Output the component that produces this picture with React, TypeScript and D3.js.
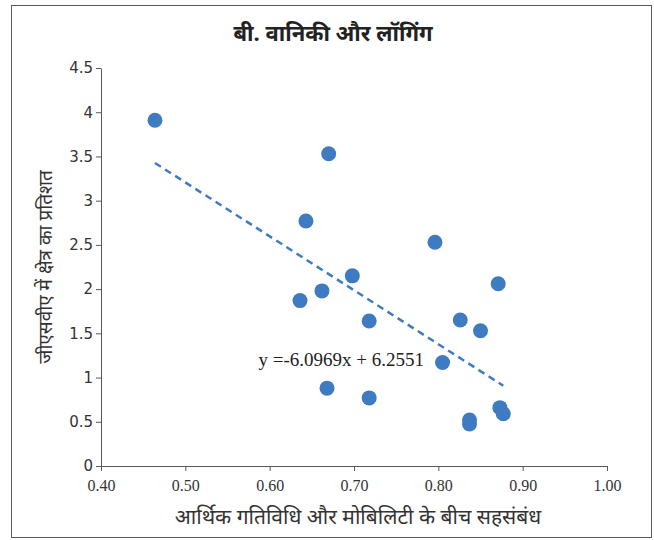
import { useRef, useEffect } from 'react';
import * as d3 from 'd3';

const corrX = [0.464, 0.670, 0.643, 0.796, 0.698, 0.871, 0.662, 0.636, 0.718, 0.826, 0.850, 0.805, 0.668, 0.718, 0.873, 0.877, 0.837, 0.837];
const gsvaY = [3.91, 3.53, 2.77, 2.53, 2.15, 2.06, 1.98, 1.87, 1.64, 1.65, 1.53, 1.17, 0.88, 0.77, 0.66, 0.59, 0.52, 0.475];
const xTicks = [0.4, 0.5, 0.6, 0.7, 0.8, 0.9, 1.0];
const yTicks = [0, 0.5, 1, 1.5, 2, 2.5, 3, 3.5, 4, 4.5];
const slope = -6.0969;
const intercept = 6.2551;

const W = 654, H = 540;
const margin = { top: 68, right: 47, bottom: 74, left: 101 };
const width = W - margin.left - margin.right;
const height = H - margin.top - margin.bottom;

const App = () => {
    const ref = useRef<SVGSVGElement>(null);

    useEffect(() => {
        if (!ref.current) return;
        const root = d3.select(ref.current);
        root.selectAll("*").remove();

        root.append("rect")
            .attr("x", 11.5).attr("y", 5.5)
            .attr("width", 640).attr("height", 532)
            .attr("fill", "white").attr("stroke", "#595959").attr("stroke-width", 1);

        root.append("text")
            .attr("x", 333).attr("y", 41)
            .attr("text-anchor", "middle")
            .style("font-family", "'Noto Sans', sans-serif")
            .style("font-weight", "bold")
            .style("font-size", "22px")
            .attr("fill", "#222")
            .text("बी. वानिकी और लॉगिंग");

        const svg = root.append("g").attr("transform", `translate(${margin.left},${margin.top})`);

        const x = d3.scaleLinear().domain([0.4, 1.0]).range([0, width]);
        const y = d3.scaleLinear().domain([0, 4.5]).range([height, 0]);

        const xAxis = svg.append("g")
            .attr("transform", `translate(0,${height})`)
            .call(d3.axisBottom(x).tickValues(xTicks).tickFormat(d3.format(".2f")).tickSize(5).tickSizeOuter(0).tickPadding(9));
        xAxis.selectAll("text")
            .style("font-family", "'Liberation Serif', serif")
            .style("font-size", "16px")
            .attr("fill", "#333");
        xAxis.selectAll("line, path").attr("stroke", "#595959");

        const yAxis = svg.append("g")
            .call(d3.axisLeft(y).tickValues(yTicks).tickFormat(d3.format("")).tickSize(5).tickSizeOuter(0).tickPadding(3));
        yAxis.selectAll("text")
            .style("font-family", "'DejaVu Sans', sans-serif")
            .style("font-size", "15px")
            .attr("fill", "#333");
        yAxis.selectAll("line, path").attr("stroke", "#595959");

        const x0 = d3.min(corrX) as number;
        const x1 = d3.max(corrX) as number;
        svg.append("line")
            .attr("x1", x(x0)).attr("y1", y(slope * x0 + intercept))
            .attr("x2", x(x1)).attr("y2", y(slope * x1 + intercept))
            .attr("stroke", "#3f7bc1")
            .attr("stroke-width", 2.5)
            .attr("stroke-dasharray", "7,5");

        svg.selectAll("circle.pt")
            .data(corrX.map((v, i) => [v, gsvaY[i]]))
            .enter()
            .append("circle")
            .attr("class", "pt")
            .attr("cx", d => x(d[0]))
            .attr("cy", d => y(d[1]))
            .attr("r", 7.5)
            .attr("fill", "#3f7bc1");

        svg.append("text")
            .attr("x", x(0.685)).attr("y", y(1.13))
            .attr("text-anchor", "middle")
            .style("font-family", "'Liberation Serif', serif")
            .style("font-size", "19px")
            .attr("fill", "#222")
            .text(`y =${slope}x + ${intercept}`);

        root.append("text")
            .attr("x", 358).attr("y", 524)
            .attr("text-anchor", "middle")
            .style("font-family", "'Noto Sans', sans-serif")
            .style("font-size", "21px")
            .attr("fill", "#333")
            .text("आर्थिक गतिविधि और मोबिलिटी के बीच सहसंबंध");

        root.append("text")
            .attr("transform", `translate(52,${margin.top + height / 2}) rotate(-90)`)
            .attr("text-anchor", "middle")
            .style("font-family", "'Noto Sans', sans-serif")
            .style("font-size", "19px")
            .attr("fill", "#333")
            .text("जीएसवीए में क्षेत्र का प्रतिशत");
    }, []);

    return <svg ref={ref} width={W} height={H} style={{ display: 'block', position: 'absolute', left: 0, top: 0 }} />;
};

export default App;
